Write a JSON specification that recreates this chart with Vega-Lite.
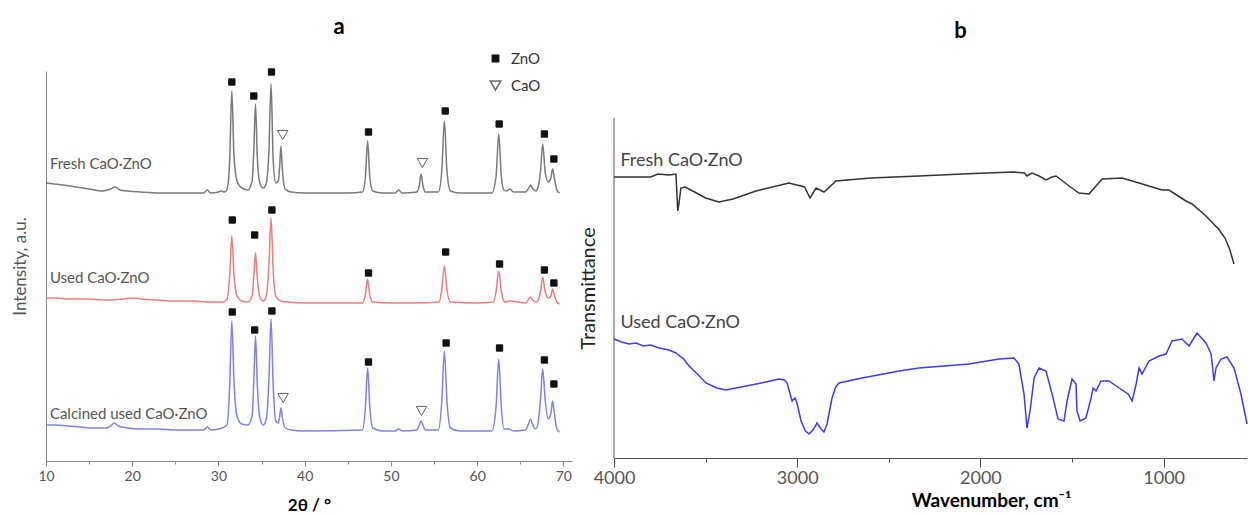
{
  "$schema": "https://vega.github.io/schema/vega-lite/v6.json",
  "padding": {"left": 11, "top": 15, "right": 0, "bottom": 0},
  "spacing": 6,
  "resolve": {"scale": {"color": "independent", "x": "independent", "y": "independent"}},
  "config": {"view": {"stroke": null}, "font": "Lato", "axis": {"grid": false}},
  "datasets": {
    "xrd": [
      {"s":"Fresh","t":10,"v":278},{"s":"Fresh","t":11,"v":277},{"s":"Fresh","t":12,"v":276},{"s":"Fresh","t":13.5,"v":274},{"s":"Fresh","t":15,"v":272},{"s":"Fresh","t":16.5,"v":270},{"s":"Fresh","t":17.5,"v":272},{"s":"Fresh","t":18,"v":274},{"s":"Fresh","t":18.6,"v":271},{"s":"Fresh","t":19.5,"v":270},{"s":"Fresh","t":21,"v":269},{"s":"Fresh","t":23,"v":268},{"s":"Fresh","t":26,"v":268},{"s":"Fresh","t":28.3,"v":268},{"s":"Fresh","t":28.7,"v":271},{"s":"Fresh","t":29.1,"v":268},{"s":"Fresh","t":30,"v":269},{"s":"Fresh","t":30.3,"v":270},{"s":"Fresh","t":30.7,"v":269},{"s":"Fresh","t":31.0,"v":272},{"s":"Fresh","t":31.3,"v":300},{"s":"Fresh","t":31.55,"v":370},{"s":"Fresh","t":31.8,"v":305},{"s":"Fresh","t":32.15,"v":280},{"s":"Fresh","t":32.7,"v":273},{"s":"Fresh","t":33.4,"v":271},{"s":"Fresh","t":33.9,"v":280},{"s":"Fresh","t":34.1,"v":310},{"s":"Fresh","t":34.3,"v":357},{"s":"Fresh","t":34.5,"v":305},{"s":"Fresh","t":34.8,"v":278},{"s":"Fresh","t":35.2,"v":273},{"s":"Fresh","t":35.55,"v":278},{"s":"Fresh","t":35.85,"v":310},{"s":"Fresh","t":36.1,"v":377},{"s":"Fresh","t":36.35,"v":300},{"s":"Fresh","t":36.65,"v":278},{"s":"Fresh","t":36.95,"v":280},{"s":"Fresh","t":37.1,"v":295},{"s":"Fresh","t":37.25,"v":315},{"s":"Fresh","t":37.4,"v":293},{"s":"Fresh","t":37.75,"v":272},{"s":"Fresh","t":38.4,"v":269},{"s":"Fresh","t":40,"v":268},{"s":"Fresh","t":45,"v":268},{"s":"Fresh","t":46.7,"v":269},{"s":"Fresh","t":47.05,"v":285},{"s":"Fresh","t":47.3,"v":320},{"s":"Fresh","t":47.55,"v":284},{"s":"Fresh","t":47.9,"v":270},{"s":"Fresh","t":49,"v":268},{"s":"Fresh","t":50.5,"v":268},{"s":"Fresh","t":50.9,"v":271},{"s":"Fresh","t":51.3,"v":268},{"s":"Fresh","t":53.0,"v":269},{"s":"Fresh","t":53.3,"v":276},{"s":"Fresh","t":53.5,"v":287},{"s":"Fresh","t":53.7,"v":276},{"s":"Fresh","t":54.0,"v":269},{"s":"Fresh","t":55.5,"v":269},{"s":"Fresh","t":55.9,"v":290},{"s":"Fresh","t":56.2,"v":340},{"s":"Fresh","t":56.5,"v":290},{"s":"Fresh","t":56.9,"v":270},{"s":"Fresh","t":58,"v":268},{"s":"Fresh","t":61.7,"v":268},{"s":"Fresh","t":62.2,"v":285},{"s":"Fresh","t":62.5,"v":327},{"s":"Fresh","t":62.8,"v":285},{"s":"Fresh","t":63.1,"v":271},{"s":"Fresh","t":63.4,"v":270},{"s":"Fresh","t":63.8,"v":272},{"s":"Fresh","t":64.2,"v":269},{"s":"Fresh","t":65.6,"v":269},{"s":"Fresh","t":66.0,"v":273},{"s":"Fresh","t":66.2,"v":276},{"s":"Fresh","t":66.4,"v":273},{"s":"Fresh","t":66.8,"v":270},{"s":"Fresh","t":67.1,"v":275},{"s":"Fresh","t":67.35,"v":290},{"s":"Fresh","t":67.6,"v":317},{"s":"Fresh","t":67.9,"v":288},{"s":"Fresh","t":68.25,"v":279},{"s":"Fresh","t":68.55,"v":283},{"s":"Fresh","t":68.75,"v":292},{"s":"Fresh","t":68.95,"v":283},{"s":"Fresh","t":69.25,"v":271},{"s":"Fresh","t":69.55,"v":268},
      {"s":"Used","t":10,"v":163},{"s":"Used","t":11,"v":163},{"s":"Used","t":13,"v":162},{"s":"Used","t":15,"v":162},{"s":"Used","t":17,"v":161},{"s":"Used","t":19,"v":162},{"s":"Used","t":20,"v":163},{"s":"Used","t":21,"v":162},{"s":"Used","t":23,"v":161},{"s":"Used","t":25,"v":160},{"s":"Used","t":27,"v":160},{"s":"Used","t":29,"v":159},{"s":"Used","t":30.5,"v":159},{"s":"Used","t":31.0,"v":162},{"s":"Used","t":31.3,"v":185},{"s":"Used","t":31.55,"v":225},{"s":"Used","t":31.8,"v":186},{"s":"Used","t":32.15,"v":165},{"s":"Used","t":32.7,"v":160},{"s":"Used","t":33.4,"v":159},{"s":"Used","t":33.9,"v":165},{"s":"Used","t":34.1,"v":185},{"s":"Used","t":34.3,"v":208},{"s":"Used","t":34.5,"v":183},{"s":"Used","t":34.8,"v":164},{"s":"Used","t":35.2,"v":160},{"s":"Used","t":35.55,"v":165},{"s":"Used","t":35.85,"v":195},{"s":"Used","t":36.1,"v":243},{"s":"Used","t":36.35,"v":190},{"s":"Used","t":36.65,"v":165},{"s":"Used","t":37.2,"v":160},{"s":"Used","t":38,"v":159},{"s":"Used","t":40,"v":158},{"s":"Used","t":46.7,"v":158},{"s":"Used","t":47.05,"v":167},{"s":"Used","t":47.3,"v":182},{"s":"Used","t":47.55,"v":166},{"s":"Used","t":47.9,"v":159},{"s":"Used","t":50,"v":158},{"s":"Used","t":53,"v":158},{"s":"Used","t":55.6,"v":159},{"s":"Used","t":55.9,"v":172},{"s":"Used","t":56.2,"v":195},{"s":"Used","t":56.5,"v":171},{"s":"Used","t":56.9,"v":159},{"s":"Used","t":60,"v":158},{"s":"Used","t":61.9,"v":159},{"s":"Used","t":62.2,"v":170},{"s":"Used","t":62.5,"v":190},{"s":"Used","t":62.8,"v":170},{"s":"Used","t":63.2,"v":159},{"s":"Used","t":63.8,"v":160},{"s":"Used","t":65.6,"v":158},{"s":"Used","t":66.0,"v":162},{"s":"Used","t":66.2,"v":164},{"s":"Used","t":66.4,"v":161},{"s":"Used","t":66.9,"v":159},{"s":"Used","t":67.2,"v":164},{"s":"Used","t":67.4,"v":172},{"s":"Used","t":67.6,"v":184},{"s":"Used","t":67.85,"v":171},{"s":"Used","t":68.25,"v":163},{"s":"Used","t":68.55,"v":165},{"s":"Used","t":68.75,"v":172},{"s":"Used","t":68.95,"v":166},{"s":"Used","t":69.25,"v":159},{"s":"Used","t":69.55,"v":157},
      {"s":"Calcined","t":10,"v":36},{"s":"Calcined","t":11,"v":36},{"s":"Calcined","t":12.5,"v":35},{"s":"Calcined","t":14,"v":34},{"s":"Calcined","t":15.5,"v":33},{"s":"Calcined","t":17,"v":33},{"s":"Calcined","t":17.5,"v":35},{"s":"Calcined","t":17.9,"v":38},{"s":"Calcined","t":18.4,"v":35},{"s":"Calcined","t":19.5,"v":33},{"s":"Calcined","t":21,"v":32},{"s":"Calcined","t":23,"v":32},{"s":"Calcined","t":25,"v":31},{"s":"Calcined","t":27,"v":31},{"s":"Calcined","t":28.3,"v":31},{"s":"Calcined","t":28.7,"v":34},{"s":"Calcined","t":29.1,"v":31},{"s":"Calcined","t":30,"v":32},{"s":"Calcined","t":30.4,"v":33},{"s":"Calcined","t":31.0,"v":36},{"s":"Calcined","t":31.3,"v":75},{"s":"Calcined","t":31.55,"v":140},{"s":"Calcined","t":31.8,"v":80},{"s":"Calcined","t":32.15,"v":45},{"s":"Calcined","t":32.7,"v":37},{"s":"Calcined","t":33.4,"v":36},{"s":"Calcined","t":33.9,"v":45},{"s":"Calcined","t":34.1,"v":80},{"s":"Calcined","t":34.3,"v":125},{"s":"Calcined","t":34.5,"v":78},{"s":"Calcined","t":34.8,"v":43},{"s":"Calcined","t":35.2,"v":36},{"s":"Calcined","t":35.55,"v":42},{"s":"Calcined","t":35.85,"v":80},{"s":"Calcined","t":36.1,"v":142},{"s":"Calcined","t":36.35,"v":75},{"s":"Calcined","t":36.65,"v":40},{"s":"Calcined","t":36.95,"v":38},{"s":"Calcined","t":37.1,"v":45},{"s":"Calcined","t":37.25,"v":53},{"s":"Calcined","t":37.4,"v":44},{"s":"Calcined","t":37.75,"v":33},{"s":"Calcined","t":38.4,"v":31},{"s":"Calcined","t":40,"v":30},{"s":"Calcined","t":46.7,"v":31},{"s":"Calcined","t":47.05,"v":55},{"s":"Calcined","t":47.3,"v":93},{"s":"Calcined","t":47.55,"v":54},{"s":"Calcined","t":47.9,"v":33},{"s":"Calcined","t":49,"v":30},{"s":"Calcined","t":50.5,"v":30},{"s":"Calcined","t":50.9,"v":32},{"s":"Calcined","t":51.3,"v":30},{"s":"Calcined","t":53.0,"v":31},{"s":"Calcined","t":53.3,"v":36},{"s":"Calcined","t":53.5,"v":40},{"s":"Calcined","t":53.7,"v":36},{"s":"Calcined","t":54.0,"v":31},{"s":"Calcined","t":55.5,"v":31},{"s":"Calcined","t":55.9,"v":60},{"s":"Calcined","t":56.2,"v":110},{"s":"Calcined","t":56.5,"v":60},{"s":"Calcined","t":56.9,"v":33},{"s":"Calcined","t":58,"v":30},{"s":"Calcined","t":61.7,"v":30},{"s":"Calcined","t":62.2,"v":55},{"s":"Calcined","t":62.5,"v":102},{"s":"Calcined","t":62.8,"v":54},{"s":"Calcined","t":63.1,"v":32},{"s":"Calcined","t":63.7,"v":32},{"s":"Calcined","t":64.2,"v":30},{"s":"Calcined","t":65.6,"v":31},{"s":"Calcined","t":66.0,"v":38},{"s":"Calcined","t":66.2,"v":42},{"s":"Calcined","t":66.4,"v":37},{"s":"Calcined","t":66.8,"v":32},{"s":"Calcined","t":67.1,"v":40},{"s":"Calcined","t":67.35,"v":62},{"s":"Calcined","t":67.6,"v":92},{"s":"Calcined","t":67.9,"v":60},{"s":"Calcined","t":68.25,"v":42},{"s":"Calcined","t":68.55,"v":48},{"s":"Calcined","t":68.75,"v":60},{"s":"Calcined","t":68.95,"v":48},{"s":"Calcined","t":69.25,"v":32},{"s":"Calcined","t":69.55,"v":29}
    ],
    "marks": [
      {"phase":"ZnO","t":31.55,"v":379},{"phase":"ZnO","t":34.1,"v":365},{"phase":"ZnO","t":36.15,"v":389},{"phase":"CaO","t":37.45,"v":326},{"phase":"ZnO","t":47.4,"v":329},{"phase":"CaO","t":53.65,"v":298},{"phase":"ZnO","t":56.3,"v":350},{"phase":"ZnO","t":62.55,"v":337},{"phase":"ZnO","t":67.8,"v":327},{"phase":"ZnO","t":68.9,"v":302},
      {"phase":"ZnO","t":31.6,"v":241},{"phase":"ZnO","t":34.2,"v":226},{"phase":"ZnO","t":36.2,"v":251},{"phase":"ZnO","t":47.4,"v":188},{"phase":"ZnO","t":56.35,"v":209},{"phase":"ZnO","t":62.6,"v":197},{"phase":"ZnO","t":67.8,"v":191},{"phase":"ZnO","t":68.9,"v":178},
      {"phase":"ZnO","t":31.6,"v":149},{"phase":"ZnO","t":34.2,"v":131},{"phase":"ZnO","t":36.2,"v":150},{"phase":"CaO","t":37.5,"v":63},{"phase":"ZnO","t":47.4,"v":99},{"phase":"CaO","t":53.55,"v":50},{"phase":"ZnO","t":56.4,"v":118},{"phase":"ZnO","t":62.6,"v":113},{"phase":"ZnO","t":67.8,"v":101},{"phase":"ZnO","t":68.9,"v":77}
    ],
    "xrdLabels": [
      {"label":"Fresh CaO·ZnO","t":10.45,"v":297},
      {"label":"Used CaO·ZnO","t":10.45,"v":183},
      {"label":"Calcined used CaO·ZnO","t":10.45,"v":47}
    ],
    "ftir": [
      {"s":"Fresh","w":4000,"v":281},{"s":"Fresh","w":3900,"v":281},{"s":"Fresh","w":3800,"v":281},{"s":"Fresh","w":3760,"v":284},{"s":"Fresh","w":3700,"v":283},{"s":"Fresh","w":3662,"v":284},{"s":"Fresh","w":3656,"v":262},{"s":"Fresh","w":3652,"v":247},{"s":"Fresh","w":3645,"v":255},{"s":"Fresh","w":3635,"v":270},{"s":"Fresh","w":3612,"v":271},{"s":"Fresh","w":3560,"v":266},{"s":"Fresh","w":3500,"v":260},{"s":"Fresh","w":3427,"v":256},{"s":"Fresh","w":3350,"v":259},{"s":"Fresh","w":3225,"v":267},{"s":"Fresh","w":3045,"v":275},{"s":"Fresh","w":2960,"v":271},{"s":"Fresh","w":2930,"v":260},{"s":"Fresh","w":2897,"v":270},{"s":"Fresh","w":2854,"v":266},{"s":"Fresh","w":2788,"v":277},{"s":"Fresh","w":2600,"v":280},{"s":"Fresh","w":2335,"v":282},{"s":"Fresh","w":2100,"v":284},{"s":"Fresh","w":1964,"v":285},{"s":"Fresh","w":1817,"v":286},{"s":"Fresh","w":1760,"v":285},{"s":"Fresh","w":1746,"v":282},{"s":"Fresh","w":1718,"v":285},{"s":"Fresh","w":1680,"v":282},{"s":"Fresh","w":1642,"v":278},{"s":"Fresh","w":1610,"v":281},{"s":"Fresh","w":1587,"v":282},{"s":"Fresh","w":1516,"v":272},{"s":"Fresh","w":1462,"v":265},{"s":"Fresh","w":1407,"v":264},{"s":"Fresh","w":1369,"v":272},{"s":"Fresh","w":1336,"v":279},{"s":"Fresh","w":1227,"v":280},{"s":"Fresh","w":1134,"v":275},{"s":"Fresh","w":1009,"v":268},{"s":"Fresh","w":971,"v":268},{"s":"Fresh","w":878,"v":257},{"s":"Fresh","w":845,"v":254},{"s":"Fresh","w":769,"v":242},{"s":"Fresh","w":700,"v":229},{"s":"Fresh","w":681,"v":224},{"s":"Fresh","w":665,"v":220},{"s":"Fresh","w":640,"v":209},{"s":"Fresh","w":616,"v":194},
      {"s":"Used","w":4000,"v":119},{"s":"Used","w":3960,"v":116},{"s":"Used","w":3918,"v":114},{"s":"Used","w":3880,"v":115},{"s":"Used","w":3840,"v":112},{"s":"Used","w":3800,"v":113},{"s":"Used","w":3754,"v":110},{"s":"Used","w":3700,"v":108},{"s":"Used","w":3662,"v":105},{"s":"Used","w":3620,"v":99},{"s":"Used","w":3590,"v":92},{"s":"Used","w":3540,"v":83},{"s":"Used","w":3498,"v":75},{"s":"Used","w":3440,"v":70},{"s":"Used","w":3389,"v":68},{"s":"Used","w":3279,"v":72},{"s":"Used","w":3170,"v":76},{"s":"Used","w":3099,"v":79},{"s":"Used","w":3070,"v":78},{"s":"Used","w":3055,"v":75},{"s":"Used","w":3028,"v":57},{"s":"Used","w":3012,"v":60},{"s":"Used","w":3001,"v":55},{"s":"Used","w":2979,"v":37},{"s":"Used","w":2955,"v":27},{"s":"Used","w":2935,"v":24},{"s":"Used","w":2910,"v":29},{"s":"Used","w":2892,"v":35},{"s":"Used","w":2870,"v":29},{"s":"Used","w":2854,"v":26},{"s":"Used","w":2837,"v":34},{"s":"Used","w":2810,"v":60},{"s":"Used","w":2790,"v":71},{"s":"Used","w":2772,"v":75},{"s":"Used","w":2646,"v":80},{"s":"Used","w":2444,"v":87},{"s":"Used","w":2335,"v":90},{"s":"Used","w":2062,"v":94},{"s":"Used","w":1898,"v":99},{"s":"Used","w":1817,"v":100},{"s":"Used","w":1790,"v":94},{"s":"Used","w":1762,"v":64},{"s":"Used","w":1746,"v":30},{"s":"Used","w":1729,"v":47},{"s":"Used","w":1707,"v":80},{"s":"Used","w":1680,"v":90},{"s":"Used","w":1642,"v":87},{"s":"Used","w":1609,"v":64},{"s":"Used","w":1576,"v":39},{"s":"Used","w":1544,"v":37},{"s":"Used","w":1527,"v":57},{"s":"Used","w":1500,"v":79},{"s":"Used","w":1478,"v":74},{"s":"Used","w":1473,"v":47},{"s":"Used","w":1456,"v":37},{"s":"Used","w":1424,"v":40},{"s":"Used","w":1396,"v":60},{"s":"Used","w":1385,"v":70},{"s":"Used","w":1369,"v":67},{"s":"Used","w":1342,"v":77},{"s":"Used","w":1298,"v":77},{"s":"Used","w":1243,"v":70},{"s":"Used","w":1194,"v":64},{"s":"Used","w":1172,"v":57},{"s":"Used","w":1150,"v":74},{"s":"Used","w":1134,"v":90},{"s":"Used","w":1118,"v":84},{"s":"Used","w":1080,"v":97},{"s":"Used","w":1025,"v":102},{"s":"Used","w":987,"v":104},{"s":"Used","w":954,"v":117},{"s":"Used","w":900,"v":119},{"s":"Used","w":861,"v":112},{"s":"Used","w":818,"v":125},{"s":"Used","w":769,"v":115},{"s":"Used","w":741,"v":104},{"s":"Used","w":725,"v":77},{"s":"Used","w":714,"v":90},{"s":"Used","w":687,"v":99},{"s":"Used","w":654,"v":101},{"s":"Used","w":616,"v":90},{"s":"Used","w":578,"v":64},{"s":"Used","w":545,"v":34}
    ],
    "ftirLabels": [
      {"label":"Fresh CaO·ZnO","w":3965,"v":297},
      {"label":"Used CaO·ZnO","w":3965,"v":135}
    ],
    "ftirAxis": [
      {"w":4000,"v0":0,"v1":340}
    ]
  },
  "hconcat": [
    {
      "width": 526,
      "height": 390,
      "title": {"text": "a", "fontSize": 22, "fontWeight": "bold", "color": "#000", "anchor": "middle", "dx": 30, "offset": 28, "frame": "group"},
      "layer": [
        {
          "data": {"name": "xrd"},
          "mark": {"type": "line", "interpolate": "monotone", "strokeWidth": 1.5},
          "encoding": {
            "x": {"field": "t", "type": "quantitative", "scale": {"domain": [10, 71], "nice": false, "zero": false},
              "axis": {"values": [10,15,20,25,30,35,40,45,50,55,60,65,70], "labelExpr": "datum.value % 10 === 0 ? datum.label : ''", "labelFlush": false, "labelOverlap": false, "domainColor": "#888", "tickColor": "#888", "tickSize": {"condition": {"test": "datum.value % 10 === 0", "value": 5}, "value": 3}, "labelColor": "#555", "labelFontSize": 14, "labelPadding": 3, "title": "2θ / °", "titleFontSize": 17, "titleFontWeight": "bold", "titleColor": "#000", "titlePadding": 14}},
            "y": {"field": "v", "type": "quantitative", "scale": {"domain": [0, 390], "nice": false},
              "axis": {"ticks": false, "labels": false, "domainColor": "#888", "title": "Intensity, a.u.", "titleFontSize": 17, "titleFontWeight": "normal", "titleColor": "#555", "titlePadding": 17}},
            "color": {"field": "s", "type": "nominal", "scale": {"domain": ["Fresh", "Used", "Calcined"], "range": ["#7a7a7a", "#f07c7c", "#8080f0"]}, "legend": null}
          }
        },
        {
          "data": {"name": "marks"},
          "mark": {"type": "point", "filled": true, "strokeWidth": 1, "opacity": 1},
          "encoding": {
            "x": {"field": "t", "type": "quantitative"},
            "y": {"field": "v", "type": "quantitative"},
            "shape": {"field": "phase", "type": "nominal", "scale": {"domain": ["ZnO", "CaO"], "range": ["square", "triangle-down"]},
              "legend": {"title": null, "orient": "none", "legendX": 442, "legendY": -20, "labelFontSize": 15, "labelColor": "#333", "rowPadding": 10, "padding": 0, "labelOffset": 8}},
            "fill": {"field": "phase", "type": "nominal", "scale": {"domain": ["ZnO", "CaO"], "range": ["#111111", "#ffffff"]}},
            "stroke": {"field": "phase", "type": "nominal", "scale": {"domain": ["ZnO", "CaO"], "range": ["#111111", "#666666"]}},
            "size": {"field": "phase", "type": "nominal", "scale": {"domain": ["ZnO", "CaO"], "range": [40, 110]}}
          }
        },
        {
          "data": {"name": "xrdLabels"},
          "mark": {"type": "text", "align": "left", "baseline": "middle", "fontSize": 15, "color": "#555"},
          "encoding": {
            "x": {"field": "t", "type": "quantitative"},
            "y": {"field": "v", "type": "quantitative"},
            "text": {"field": "label"}
          }
        }
      ]
    },
    {
      "width": 633,
      "height": 387,
      "title": {"text": "b", "fontSize": 22, "fontWeight": "bold", "color": "#000", "anchor": "middle", "dx": 30, "offset": 28, "frame": "group"},
      "layer": [
        {
          "data": {"name": "ftir"},
          "mark": {"type": "line", "strokeWidth": 1.5},
          "encoding": {
            "x": {"field": "w", "type": "quantitative", "scale": {"domain": [4000, 545], "nice": false, "zero": false},
              "axis": {"values": [4000,3500,3000,2500,2000,1500,1000], "format": "d", "labelExpr": "datum.value % 1000 === 0 ? datum.label : ''", "labelFlush": false, "labelOverlap": false, "domainColor": "#555", "tickColor": "#555", "tickSize": {"condition": {"test": "datum.value % 1000 === 0", "value": 9}, "value": 4}, "labelColor": "#555", "labelFontSize": 18, "labelPadding": 2, "title": "Wavenumber, cm⁻¹", "titleFontSize": 19, "titleFontWeight": "bold", "titleColor": "#000", "titlePadding": 4, "titleX": 377, "titleAlign": "center"}},
            "y": {"field": "v", "type": "quantitative", "scale": {"domain": [0, 387], "nice": false},
              "axis": {"ticks": false, "labels": false, "domain": false, "title": "Transmittance", "titleFontSize": 20, "titleFontWeight": "normal", "titleColor": "#222", "titlePadding": 16, "titleY": 217}},
            "color": {"field": "s", "type": "nominal", "scale": {"domain": ["Fresh", "Used"], "range": ["#333333", "#3c3cf5"]}, "legend": null}
          }
        },
        {
          "data": {"name": "ftirAxis"},
          "mark": {"type": "rule", "color": "#555", "strokeWidth": 1},
          "encoding": {
            "x": {"field": "w", "type": "quantitative"},
            "y": {"field": "v0", "type": "quantitative"},
            "y2": {"field": "v1"}
          }
        },
        {
          "data": {"name": "ftirLabels"},
          "mark": {"type": "text", "align": "left", "baseline": "middle", "fontSize": 18, "color": "#444"},
          "encoding": {
            "x": {"field": "w", "type": "quantitative"},
            "y": {"field": "v", "type": "quantitative"},
            "text": {"field": "label"}
          }
        }
      ]
    }
  ]
}
